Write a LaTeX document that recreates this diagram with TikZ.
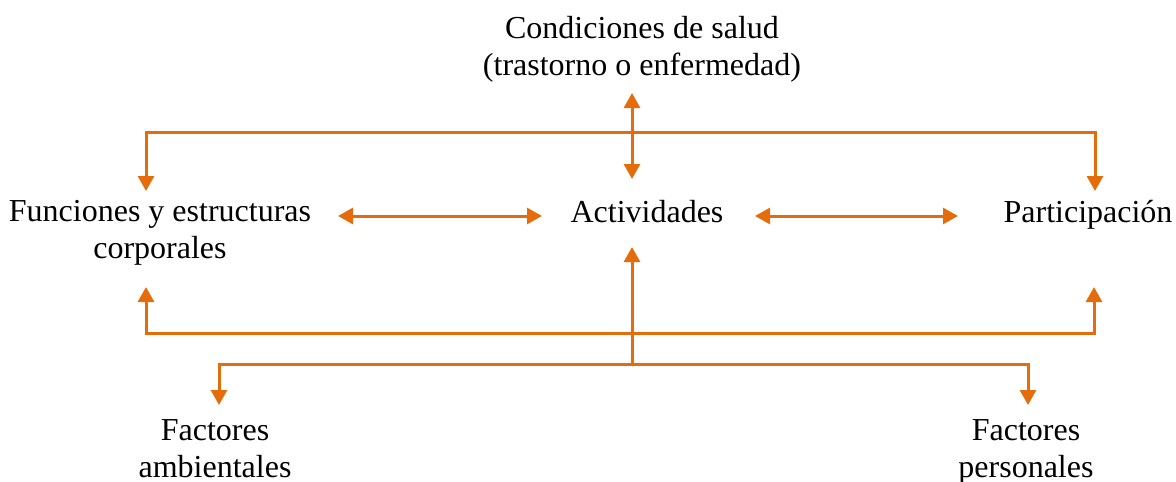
\documentclass[tikz,border=0pt]{standalone}
\usepackage{fontspec}
\setmainfont{Liberation Serif}
\usetikzlibrary{arrows.meta}
\definecolor{icforange}{RGB}{228,108,10}
\begin{document}
\begin{tikzpicture}[x=1pt,y=-1pt,
  conn/.style={draw=icforange, color=icforange, line width=3pt},
  tip/.style={-{Triangle[length=15pt,width=16pt]}},
  both/.style={{Triangle[length=15pt,width=16pt]}-{Triangle[length=15pt,width=16pt]}},
  lbl/.style={font=\fontsize{32}{37}\selectfont, align=center, inner sep=0pt, anchor=base}]
\useasboundingbox (0,0) rectangle (1176,482);
% labels (anchor base = baseline of the last line)
\node[lbl] (cond) at (642,75) {Condiciones de salud\\(trastorno o enfermedad)};
\node[lbl] (func) at (160,258) {Funciones y estructuras\\corporales};
\node[lbl] (act) at (647,222) {Actividades};
\node[lbl] (part) at (1088,222) {Participación};
\node[lbl] (fa) at (215,477) {Factores\\ambientales};
\node[lbl] (fp) at (1026,477) {Factores\\personales};
% junction coordinates
\coordinate (ctop) at (632,93);
\coordinate (cbot) at (632,179);
\coordinate (tl) at (146,132);
\coordinate (tr) at (1095,132);
\coordinate (tld) at (146,191);
\coordinate (trd) at (1095,191);
\coordinate (h1a) at (338,216);
\coordinate (h1b) at (542,216);
\coordinate (h2a) at (755,216);
\coordinate (h2b) at (958,216);
\coordinate (bl) at (146,333);
\coordinate (br) at (1094,333);
\coordinate (blu) at (146,287);
\coordinate (bru) at (1094,287);
\coordinate (cv) at (632,364);
\coordinate (cvt) at (632,247);
\coordinate (ll) at (219,364);
\coordinate (lr) at (1028,364);
\coordinate (lld) at (219,405);
\coordinate (lrd) at (1028,405);
% connectors
\draw[conn, both] (tld) -- (tl) -- (tr) -- (trd);
\draw[conn, both] (ctop) -- (cbot);
\draw[conn, both] (h1a) -- (h1b);
\draw[conn, both] (h2a) -- (h2b);
\draw[conn, both] (blu) -- (bl) -- (br) -- (bru);
\draw[conn, both] (lld) -- (ll) -- (lr) -- (lrd);
\draw[conn, tip] (cv) -- (cvt);
\end{tikzpicture}
\end{document}
